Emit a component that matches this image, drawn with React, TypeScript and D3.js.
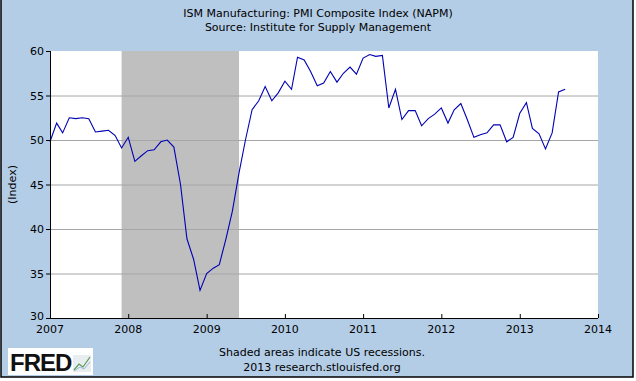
import React, { useEffect, useRef } from "react";
import * as d3 from "d3";

const title1 = "ISM Manufacturing: PMI Composite Index (NAPM)";
const title2 = "Source: Institute for Supply Management";
const yLabel = "(Index)";
const footer1 = "Shaded areas indicate US recessions.";
const footer2 = "2013 research.stlouisfed.org";

const startYear = 2007;
const startMonth = 0;
const values: number[] = [
  // 2007
  49.8, 51.9, 50.8, 52.5, 52.4, 52.5, 52.4, 50.9, 51.0, 51.1, 50.5, 49.1,
  // 2008
  50.3, 47.6, 48.2, 48.8, 48.9, 49.8, 50.0, 49.2, 45.0, 38.9, 36.6, 33.1,
  // 2009
  35.0, 35.6, 36.0, 38.9, 42.0, 46.3, 50.0, 53.4, 54.4, 56.0, 54.4, 55.3,
  // 2010
  56.6, 55.7, 59.3, 59.0, 57.7, 56.1, 56.4, 57.7, 56.5, 57.5, 58.2, 57.4,
  // 2011
  59.2, 59.6, 59.4, 59.5, 53.6, 55.7, 52.3, 53.3, 53.3, 51.6, 52.4, 52.9,
  // 2012
  53.6, 51.9, 53.4, 54.1, 52.3, 50.3, 50.6, 50.8, 51.7, 51.7, 49.8, 50.3,
  // 2013
  53.0, 54.2, 51.3, 50.7, 49.0, 50.8, 55.4, 55.7,
];
const recessionStart = new Date(2007, 11, 1);
const recessionEnd = new Date(2009, 5, 1);
const xTickYears = [2007, 2008, 2009, 2010, 2011, 2012, 2013, 2014];
const yTicks = [30, 35, 40, 45, 50, 55, 60];

const W = 636;
const H = 381;
const FONT = "'DejaVu Sans', Verdana, sans-serif";

export default function App() {
  const ref = useRef<SVGSVGElement>(null);

  useEffect(() => {
    document.body.style.margin = "0";
    const svg = d3.select(ref.current);
    svg.selectAll("*").remove();

    const left = 50, right = 598, top = 51, bottom = 318;
    const x = d3.scaleTime().domain([new Date(2007, 0, 1), new Date(2014, 0, 1)]).range([left, right]);
    const y = d3.scaleLinear().domain([30, 60]).range([bottom, top]);

    const data = values.map((v, i) => ({ date: new Date(startYear, startMonth + i, 1), v }));

    svg.append("rect").attr("x", 1).attr("y", -2).attr("width", 632).attr("height", 379)
      .attr("fill", "#B4CDE6").attr("stroke", "#000").attr("stroke-width", 1.5);

    svg.append("rect").attr("x", left).attr("y", top).attr("width", right - left).attr("height", bottom - top).attr("fill", "#fff");

    svg.append("rect").attr("x", x(recessionStart)).attr("y", top)
      .attr("width", x(recessionEnd) - x(recessionStart)).attr("height", bottom - top).attr("fill", "#BFBFBF");

    svg.append("g").selectAll("line").data(yTicks.filter(t => t > 30 && t < 60)).join("line")
      .attr("x1", left).attr("x2", right).attr("y1", d => y(d) + 0.5).attr("y2", d => y(d) + 0.5)
      .attr("stroke", "#A6A6A6").attr("stroke-width", 1);

    const line = d3.line<{ date: Date; v: number }>().x(d => x(d.date)).y(d => y(d.v));
    svg.append("path").datum(data).attr("d", line).attr("fill", "none").attr("stroke", "#0000B4").attr("stroke-width", 1.1);

    // axes
    svg.append("line").attr("x1", left + 0.5).attr("x2", left + 0.5).attr("y1", top).attr("y2", bottom).attr("stroke", "#000");
    svg.append("line").attr("x1", left).attr("x2", right).attr("y1", bottom + 0.5).attr("y2", bottom + 0.5).attr("stroke", "#000");

    const yg = svg.append("g");
    yg.selectAll("line").data(yTicks).join("line")
      .attr("x1", left - 4).attr("x2", left).attr("y1", d => y(d) + 0.5).attr("y2", d => y(d) + 0.5).attr("stroke", "#000");
    yg.selectAll("text").data(yTicks).join("text")
      .attr("x", left - 6).attr("y", d => y(d) + (d === 30 ? 2 : 4)).attr("text-anchor", "end")
      .attr("font-family", FONT).attr("font-size", 11).attr("fill", "#000").text(d => String(d));

    const xg = svg.append("g");
    xg.selectAll("line").data(xTickYears).join("line")
      .attr("x1", d => x(new Date(d, 0, 1)) + 0.5).attr("x2", d => x(new Date(d, 0, 1)) + 0.5)
      .attr("y1", bottom - 4).attr("y2", bottom).attr("stroke", "#000");
    xg.selectAll("text").data(xTickYears).join("text")
      .attr("x", d => x(new Date(d, 0, 1))).attr("y", bottom + 15).attr("text-anchor", "middle")
      .attr("font-family", FONT).attr("font-size", 11).attr("fill", "#000").text(d => String(d));

    svg.append("text").attr("x", 318).attr("y", 17).attr("text-anchor", "middle")
      .attr("font-family", FONT).attr("font-size", 11).text(title1);
    svg.append("text").attr("x", 318).attr("y", 31).attr("text-anchor", "middle")
      .attr("font-family", FONT).attr("font-size", 11).text(title2);

    svg.append("text").attr("transform", `translate(16,${(top + bottom) / 2}) rotate(-90)`).attr("text-anchor", "middle")
      .attr("font-family", FONT).attr("font-size", 11).text(yLabel);

    svg.append("text").attr("x", 322).attr("y", 356).attr("text-anchor", "middle")
      .attr("font-family", FONT).attr("font-size", 11).text(footer1);
    svg.append("text").attr("x", 322).attr("y", 371).attr("text-anchor", "middle")
      .attr("font-family", FONT).attr("font-size", 11).text(footer2);

    // FRED logo
    const logo = svg.append("g");
    logo.append("rect").attr("x", 8).attr("y", 348).attr("width", 85).attr("height", 27).attr("fill", "#fff");
    logo.append("text").attr("x", 10).attr("y", 371).attr("font-family", "'Liberation Sans', Arial, sans-serif")
      .attr("font-weight", "bold").attr("font-size", 24).attr("letter-spacing", -1).attr("fill", "#111").text("FRED");
    logo.append("rect").attr("x", 73).attr("y", 355).attr("width", 18).attr("height", 17).attr("fill", "#E8EEF0");
    logo.append("polyline").attr("points", "74,370 79,364 83,367 90,357").attr("fill", "none").attr("stroke", "#5A9A5A").attr("stroke-width", 1.2);
    logo.append("polyline").attr("points", "74,371 80,367 84,369 90,362").attr("fill", "none").attr("stroke", "#9BB8D8").attr("stroke-width", 1);
  }, []);

  return <svg ref={ref} width={W} height={H} style={{ display: "block" }} />;
}
